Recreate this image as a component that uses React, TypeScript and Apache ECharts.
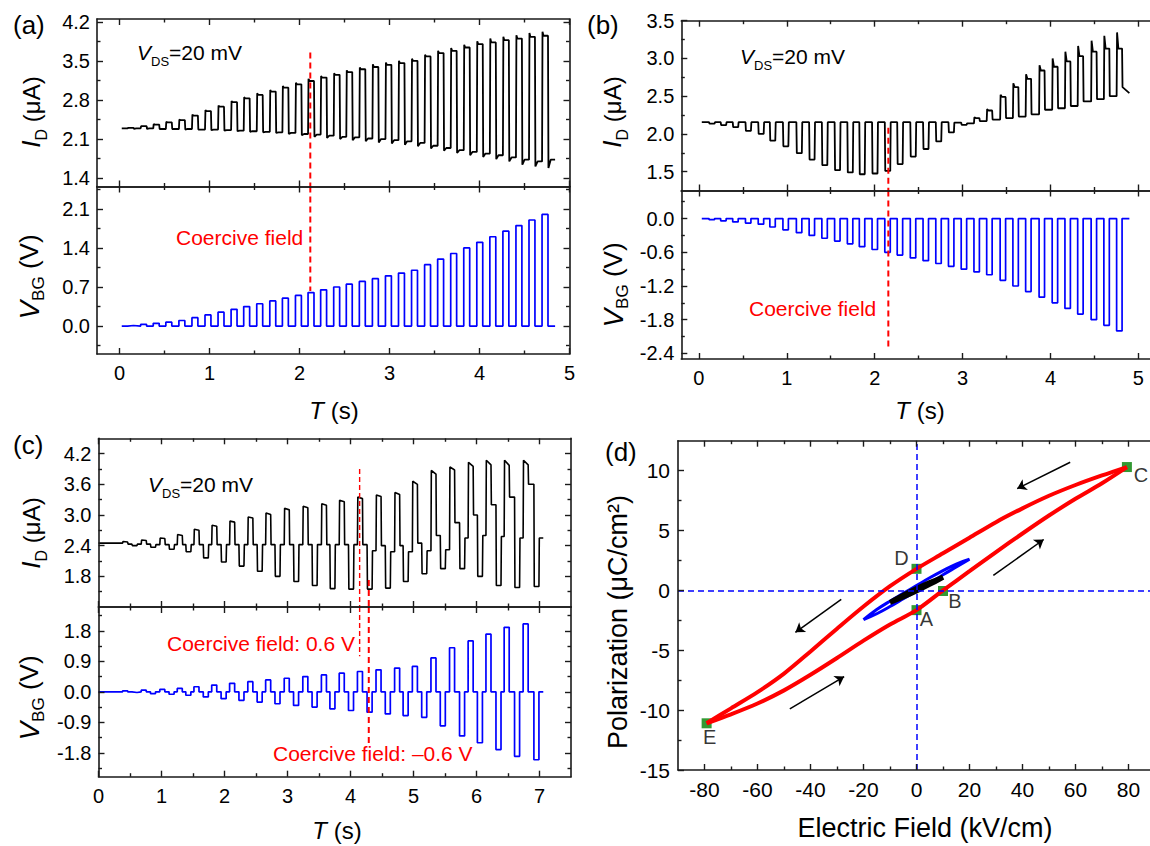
import React, { useEffect, useRef } from 'react';
import * as echarts from 'echarts';

const FONT = '"Liberation Sans", Arial, Helvetica, sans-serif';

// ================= Panel (a) data =================
const aTraceStart = 0.025;
const aTraceEnd = 4.84;
const aPulseWidth = 0.066;
const aPulseStart = [0.09, 0.235, 0.375, 0.515, 0.66, 0.805, 0.95, 1.095, 1.24, 1.38, 1.525, 1.67, 1.81, 1.955, 2.095, 2.235, 2.38, 2.52, 2.665, 2.81, 2.955, 3.10, 3.245, 3.39, 3.535, 3.68, 3.825, 3.97, 4.115, 4.26, 4.405, 4.55, 4.695];
const aVbg = [0.01, 0.03, 0.05, 0.07, 0.1, 0.15, 0.2, 0.25, 0.3, 0.35, 0.4, 0.45, 0.5, 0.55, 0.6, 0.65, 0.7, 0.75, 0.8, 0.85, 0.9, 0.95, 1.0, 1.1, 1.2, 1.3, 1.4, 1.5, 1.6, 1.7, 1.8, 1.9, 2.0];
const aIdStart = 2.29;
const aIdPeak = [2.30, 2.33, 2.37, 2.41, 2.45, 2.54, 2.62, 2.70, 2.78, 2.85, 2.92, 2.98, 3.05, 3.11, 3.18, 3.23, 3.28, 3.33, 3.38, 3.44, 3.47, 3.50, 3.54, 3.61, 3.68, 3.73, 3.79, 3.85, 3.90, 3.93, 3.96, 4.00, 4.02];
const aIdHigh = [2.30, 2.33, 2.36, 2.40, 2.44, 2.52, 2.60, 2.68, 2.76, 2.83, 2.89, 2.95, 3.02, 3.08, 3.14, 3.20, 3.25, 3.30, 3.35, 3.39, 3.43, 3.46, 3.50, 3.58, 3.64, 3.68, 3.74, 3.80, 3.83, 3.87, 3.90, 3.93, 3.95];
const aIdDip = [2.28, 2.28, 2.28, 2.28, 2.27, 2.27, 2.26, 2.25, 2.24, 2.23, 2.22, 2.21, 2.19, 2.17, 2.14, 2.12, 2.10, 2.08, 2.06, 2.04, 2.02, 2.00, 1.97, 1.93, 1.89, 1.85, 1.81, 1.78, 1.74, 1.70, 1.64, 1.61, 1.58];
const aIdLow = [2.29, 2.29, 2.28, 2.28, 2.28, 2.27, 2.27, 2.26, 2.25, 2.24, 2.23, 2.22, 2.21, 2.19, 2.18, 2.16, 2.14, 2.13, 2.11, 2.10, 2.08, 2.06, 2.03, 1.98, 1.94, 1.90, 1.87, 1.84, 1.81, 1.77, 1.73, 1.70, 1.73];
const aCoerciveT = 2.12;
const aCoerciveIdTop = 3.65;
const aCoerciveVbgBottom = 0.63;

// ================= Panel (b) data =================
const bTraceStart = 0.033;
const bTraceEnd = 4.897;
const bPulseWidth = 0.062;
const bPulseStart = [0.116, 0.248, 0.385, 0.53, 0.675, 0.807, 0.956, 1.109, 1.254, 1.399, 1.544, 1.689, 1.825, 1.97, 2.115, 2.256, 2.405, 2.55, 2.695, 2.839, 2.984, 3.129, 3.274, 3.427, 3.572, 3.717, 3.87, 4.019, 4.164, 4.309, 4.462, 4.607, 4.752];
const bVbg = [-0.02, -0.04, -0.06, -0.08, -0.1, -0.15, -0.2, -0.25, -0.3, -0.35, -0.4, -0.45, -0.5, -0.55, -0.6, -0.65, -0.7, -0.75, -0.8, -0.85, -0.9, -0.95, -1.0, -1.1, -1.2, -1.3, -1.4, -1.5, -1.6, -1.7, -1.8, -1.9, -2.0];
const bIdStart = 2.155;
const bIdPeak = [2.135, 2.115, 2.09, 2.04, 2.0, 1.91, 1.835, 1.745, 1.66, 1.585, 1.52, 1.49, 1.465, 1.475, 1.51, 1.60, 1.70, 1.80, 1.90, 2.02, 2.12, 2.22, 2.33, 2.52, 2.67, 2.79, 2.91, 3.00, 3.09, 3.165, 3.235, 3.30, 3.345];
const bIdPlateau = [2.135, 2.115, 2.09, 2.04, 2.0, 1.91, 1.835, 1.745, 1.66, 1.585, 1.52, 1.49, 1.465, 1.475, 1.51, 1.60, 1.70, 1.80, 1.90, 2.02, 2.12, 2.21, 2.31, 2.49, 2.62, 2.73, 2.84, 2.89, 2.96, 3.03, 3.09, 3.13, 3.13];
const bIdAfter = [2.155, 2.155, 2.155, 2.155, 2.155, 2.155, 2.155, 2.155, 2.155, 2.155, 2.155, 2.155, 2.155, 2.155, 2.155, 2.155, 2.155, 2.155, 2.155, 2.15, 2.14, 2.17, 2.19, 2.21, 2.23, 2.26, 2.32, 2.34, 2.37, 2.43, 2.46, 2.50, 2.62];
const bIdEnd = 2.54;
const bCoerciveT = 2.155;
const bCoerciveIdTop = 2.08;
const bCoerciveVbgBottom = -2.33;

// ================= Panel (c) data =================
const cTraceEnd = 7.06;
const cPulseWidth = 0.08;
const cPosStart = [0.383, 0.678, 0.973, 1.25, 1.515, 1.797, 2.081, 2.37, 2.653, 2.948, 3.243, 3.538, 3.821, 4.11, 4.405, 4.70, 4.982, 5.277, 5.572, 5.867, 6.15, 6.439, 6.74];
const cNegStart = [0.531, 0.825, 1.12, 1.386, 1.663, 1.946, 2.229, 2.518, 2.801, 3.096, 3.39, 3.673, 3.968, 4.263, 4.552, 4.835, 5.13, 5.425, 5.731, 6.014, 6.309, 6.604, 6.911];
const cVbgPos = [0.03, 0.05, 0.07, 0.1, 0.15, 0.2, 0.25, 0.3, 0.35, 0.4, 0.45, 0.5, 0.55, 0.6, 0.65, 0.7, 0.75, 1.0, 1.3, 1.5, 1.7, 1.9, 2.0];
const cVbgNeg = [-0.02, -0.05, -0.07, -0.1, -0.15, -0.2, -0.25, -0.3, -0.35, -0.4, -0.45, -0.5, -0.55, -0.6, -0.65, -0.7, -0.75, -1.0, -1.3, -1.5, -1.7, -1.9, -2.0];
const cIdStart = 2.45;
const cIdPosPeak = [2.48, 2.51, 2.55, 2.62, 2.72, 2.80, 2.88, 2.96, 3.04, 3.13, 3.17, 3.22, 3.29, 3.35, 3.39, 3.44, 3.66, 3.87, 3.94, 4.03, 4.07, 4.07, 4.07];
const cIdPosEnd = [2.47, 2.50, 2.54, 2.60, 2.70, 2.78, 2.86, 2.94, 3.01, 3.10, 3.14, 3.19, 3.26, 3.32, 3.36, 3.40, 3.60, 3.80, 3.88, 3.95, 3.98, 3.97, 3.98];
const cIdMid = [2.43, 2.43, 2.42, 2.42, 2.42, 2.42, 2.42, 2.42, 2.42, 2.42, 2.42, 2.42, 2.42, 2.42, 2.40, 2.40, 2.45, 2.60, 2.85, 3.0, 3.2, 3.35, 3.6];
const cIdNeg = [2.40, 2.37, 2.33, 2.28, 2.16, 2.08, 2.0, 1.90, 1.80, 1.70, 1.62, 1.56, 1.55, 1.55, 1.57, 1.70, 1.85, 1.95, 1.95, 1.80, 1.62, 1.58, 1.60];
const cIdAfter = [2.43, 2.42, 2.42, 2.42, 2.42, 2.42, 2.42, 2.42, 2.42, 2.42, 2.42, 2.42, 2.42, 2.30, 2.28, 2.28, 2.30, 2.32, 2.55, 2.60, 2.58, 2.55, 2.55];
const cCoerciveT1 = 4.145;
const cCoercive1IdTop = 3.9;
const cCoercive1VbgBottom = 1.05;
const cCoerciveT2 = 4.29;
const cCoercive2IdTop = 1.73;
const cCoercive2VbgBottom = -1.6;

// ================= Panel (d) data =================
const dUpperE = [79.4, 70, 60, 50, 40, 30, 20, 10, 0, -10, -20, -30, -40, -50, -60, -70, -79.2];
const dUpperP = [10.3, 9.6, 8.8, 7.9, 6.85, 5.7, 4.4, 3.1, 1.8, 0.35, -1.35, -3.2, -5.1, -6.95, -8.5, -9.85, -11.1];
const dLowerE = [-79.2, -70, -60, -50, -40, -30, -20, -10, 0, 10, 20, 30, 40, 50, 60, 70, 79.4];
const dLowerP = [-11.1, -10.35, -9.45, -8.35, -7.05, -5.65, -4.2, -2.85, -1.65, 0, 1.6, 3.2, 4.75, 6.25, 7.65, 8.95, 10.3];
const dBlueE = [-20, -15, -10, -5, 0, 5, 10, 15, 20, 15, 10, 5, 0, -5, -10, -15, -20];
const dBlueP = [-2.45, -1.6, -0.9, -0.25, 0.4, 1.05, 1.65, 2.2, 2.6, 1.95, 1.3, 0.6, -0.05, -0.7, -1.35, -1.95, -2.45];
const dBlackE = [-10, -5, 0, 5, 10, 5, 0, -5, -10];
const dBlackP = [-1.0, -0.4, 0.15, 0.65, 1.1, 0.5, -0.05, -0.55, -1.0];
const dPointNames = ['A', 'B', 'C', 'D', 'E'];
const dPointE = [0, 10, 79.4, 0, -79.2];
const dPointP = [-1.65, -0.05, 10.3, 1.8, -11.1];
const dArrowFrom = [[58, 10.7], [29, 1.25], [-28.4, -0.75], [-47.8, -9.9]];
const dArrowTo = [[38, 8.5], [48, 4.25], [-45.7, -3.5], [-27.3, -7.2]];

// ================= Ticks =================
const aXTicks = [0, 1, 2, 3, 4, 5];
const aXMinor = [0.5, 1.5, 2.5, 3.5, 4.5];
const aIdTicks = [1.4, 2.1, 2.8, 3.5, 4.2];
const aIdMinor = [1.75, 2.45, 3.15, 3.85];
const aVbgTicks = [0, 0.7, 1.4, 2.1];
const aVbgMinor = [-0.35, 0.35, 1.05, 1.75, 2.45];
const bXTicks = [0, 1, 2, 3, 4, 5];
const bXMinor = [0.5, 1.5, 2.5, 3.5, 4.5];
const bIdTicks = [1.5, 2.0, 2.5, 3.0, 3.5];
const bIdMinor = [1.75, 2.25, 2.75, 3.25];
const bVbgTicks = [-2.4, -1.8, -1.2, -0.6, 0];
const bVbgMinor = [-2.1, -1.5, -0.9, -0.3, 0.3];
const cXTicks = [0, 1, 2, 3, 4, 5, 6, 7];
const cXMinor = [0.5, 1.5, 2.5, 3.5, 4.5, 5.5, 6.5];
const cIdTicks = [1.8, 2.4, 3.0, 3.6, 4.2];
const cIdMinor = [1.5, 2.1, 2.7, 3.3, 3.9];
const cVbgTicks = [-1.8, -0.9, 0, 0.9, 1.8];
const cVbgMinor = [-2.25, -1.35, -0.45, 0.45, 1.35, 2.25];
const dXTicks = [-80, -60, -40, -20, 0, 20, 40, 60, 80];
const dXMinor = [-70, -50, -30, -10, 10, 30, 50, 70];
const dYTicks = [-15, -10, -5, 0, 5, 10];
const dYMinor = [-12.5, -7.5, -2.5, 2.5, 7.5];

// ================= builders =================
function pulseTrain(t0: number, t1: number, starts: number[], width: number, amps: number[]) {
  const pts: number[][] = [[t0, 0]];
  starts.forEach((s, i) => {
    pts.push([s, 0], [s, amps[i]], [s + width, amps[i]], [s + width, 0]);
  });
  pts.push([t1, 0]);
  return pts;
}

function traceAId() {
  const pts: number[][] = [[aTraceStart, aIdStart]];
  let prev = aIdStart;
  aPulseStart.forEach((s, i) => {
    const e = s + aPulseWidth;
    pts.push([s, prev], [s + 0.005, aIdPeak[i]], [s + 0.016, aIdHigh[i]], [e, aIdHigh[i]], [e + 0.005, aIdDip[i]], [e + 0.03, aIdLow[i]]);
    prev = aIdLow[i];
  });
  pts.push([aTraceEnd, prev]);
  return pts;
}

function traceBId() {
  const pts: number[][] = [[bTraceStart, bIdStart]];
  let prev = bIdStart;
  bPulseStart.forEach((s, i) => {
    const e = s + bPulseWidth;
    pts.push([s, prev], [s + 0.005, bIdPeak[i]], [s + 0.02, bIdPlateau[i]], [e, bIdPlateau[i]], [e + 0.005, bIdAfter[i]]);
    prev = bIdAfter[i];
  });
  pts.push([bTraceEnd, bIdEnd]);
  return pts;
}

function traceCVbg() {
  const pts: number[][] = [[0, 0]];
  cPosStart.forEach((s, i) => {
    const n = cNegStart[i];
    pts.push([s, 0], [s, cVbgPos[i]], [s + cPulseWidth, cVbgPos[i]], [s + cPulseWidth, 0],
      [n, 0], [n, cVbgNeg[i]], [n + cPulseWidth, cVbgNeg[i]], [n + cPulseWidth, 0]);
  });
  pts.push([cTraceEnd, 0]);
  return pts;
}

function traceCId() {
  const pts: number[][] = [[0, cIdStart]];
  let prev = cIdStart;
  cPosStart.forEach((s, i) => {
    const e = s + cPulseWidth;
    const n = cNegStart[i];
    const ne = n + cPulseWidth;
    pts.push([s, prev], [s + 0.006, cIdPosPeak[i]], [e, cIdPosEnd[i]], [e + 0.006, cIdMid[i]], [n, cIdMid[i]],
      [n + 0.006, cIdNeg[i]], [ne, cIdNeg[i]], [ne + 0.006, cIdAfter[i]]);
    prev = cIdAfter[i];
  });
  pts.push([cTraceEnd, prev]);
  return pts;
}

const zip = (a: number[], b: number[]) => a.map((v, i) => [v, b[i]]);

interface AxisDef {
  min: number; max: number; majors: number[]; minors: number[];
  labels: boolean; fmt?: (v: number) => string; fontSize?: number; margin?: number; noOpp?: boolean;
}

function addAxes(list: any[], dim: 'x' | 'y', grid: number, d: AxisDef): number {
  const mainPos = dim === 'x' ? 'bottom' : 'left';
  const oppPos = dim === 'x' ? 'top' : 'right';
  const mk = (pos: string, ticks: number[], len: number, lineShow: boolean, labels: boolean) => ({
    type: 'value', gridIndex: grid, min: d.min, max: d.max, position: pos,
    axisLine: { show: lineShow, onZero: false, lineStyle: { color: '#1a1a1a', width: 1.6 } },
    axisTick: { show: true, inside: true, length: len, customValues: ticks, lineStyle: { color: '#1a1a1a', width: 1.4 } },
    axisLabel: labels ? {
      show: true, customValues: d.majors, formatter: d.fmt || ((v: number) => String(v)),
      fontSize: d.fontSize || 20, fontFamily: FONT, color: '#000', margin: d.margin ?? 8,
    } : { show: false },
    splitLine: { show: false }, minorTick: { show: false }, minorSplitLine: { show: false },
    axisPointer: { show: false }, silent: true, z: 5,
  });
  const idx = list.length;
  list.push(mk(mainPos, d.majors, 6, true, d.labels));
  list.push(mk(mainPos, d.minors, 3.5, false, false));
  if (!d.noOpp) {
    list.push(mk(oppPos, d.majors, 6, true, false));
    list.push(mk(oppPos, d.minors, 3.5, false, false));
  }
  return idx;
}

const f1 = (v: number) => v.toFixed(1);

function buildOption() {
  const grids = [
    { left: 97, top: 19, width: 472.5, height: 167.5 },
    { left: 97, top: 186.5, width: 472.5, height: 167.5 },
    { left: 681.3, top: 20.7, width: 483.5, height: 169.8 },
    { left: 681.3, top: 190.5, width: 483.5, height: 168.5 },
    { left: 98.5, top: 438.3, width: 472.5, height: 168.7 },
    { left: 98.5, top: 607, width: 472.5, height: 169.7 },
    { left: 678, top: 440.7, width: 477, height: 329.3 },
  ].map((g) => ({ ...g, containLabel: false, outerBoundsMode: 'none' }));

  const xAxes: any[] = [];
  const yAxes: any[] = [];
  const ax = [
    addAxes(xAxes, 'x', 0, { min: -0.25, max: 5, majors: aXTicks, minors: aXMinor, labels: false }),
    addAxes(xAxes, 'x', 1, { min: -0.25, max: 5, majors: aXTicks, minors: aXMinor, labels: true, margin: 9 }),
    addAxes(xAxes, 'x', 2, { min: -0.2, max: 5.3, majors: bXTicks, minors: bXMinor, labels: false }),
    addAxes(xAxes, 'x', 3, { min: -0.2, max: 5.3, majors: bXTicks, minors: bXMinor, labels: true, margin: 9 }),
    addAxes(xAxes, 'x', 4, { min: 0, max: 7.5, majors: cXTicks, minors: cXMinor, labels: false }),
    addAxes(xAxes, 'x', 5, { min: 0, max: 7.5, majors: cXTicks, minors: cXMinor, labels: true, margin: 9 }),
    addAxes(xAxes, 'x', 6, { min: -90, max: 90, majors: dXTicks, minors: dXMinor, labels: true, fontSize: 21, margin: 9 }),
  ];
  const ay = [
    addAxes(yAxes, 'y', 0, { min: 1.25, max: 4.25, majors: aIdTicks, minors: aIdMinor, labels: true, fmt: f1, margin: 7 }),
    addAxes(yAxes, 'y', 1, { min: -0.5, max: 2.5, majors: aVbgTicks, minors: aVbgMinor, labels: true, fmt: f1, margin: 7 }),
    addAxes(yAxes, 'y', 2, { min: 1.25, max: 3.5, majors: bIdTicks, minors: bIdMinor, labels: true, fmt: f1, margin: 7, noOpp: true }),
    addAxes(yAxes, 'y', 3, { min: -2.5, max: 0.5, majors: bVbgTicks, minors: bVbgMinor, labels: true, fmt: f1, margin: 7, noOpp: true }),
    addAxes(yAxes, 'y', 4, { min: 1.2, max: 4.5, majors: cIdTicks, minors: cIdMinor, labels: true, fmt: f1, margin: 7 }),
    addAxes(yAxes, 'y', 5, { min: -2.5, max: 2.5, majors: cVbgTicks, minors: cVbgMinor, labels: true, fmt: f1, margin: 7 }),
    addAxes(yAxes, 'y', 6, { min: -15, max: 12.5, majors: dYTicks, minors: dYMinor, labels: true, fontSize: 21, margin: 8, noOpp: true }),
  ];

  const line = (g: number, data: number[][], color: string, width: number, extra: any = {}) => ({
    type: 'line', xAxisIndex: ax[g], yAxisIndex: ay[g], data, showSymbol: false, symbol: 'none',
    lineStyle: { color, width, ...(extra.lineStyle || {}) }, silent: true, animation: false,
    ...Object.fromEntries(Object.entries(extra).filter(([k]) => k !== 'lineStyle')),
  });
  const dashRed = { lineStyle: { type: [6, 4] } };

  const series: any[] = [
    line(0, traceAId(), '#000', 1.8),
    line(1, pulseTrain(aTraceStart, aTraceEnd, aPulseStart, aPulseWidth, aVbg), '#0000ff', 1.7),
    line(0, [[aCoerciveT, aCoerciveIdTop], [aCoerciveT, 1.25]], '#ff0000', 2, dashRed),
    line(1, [[aCoerciveT, 2.5], [aCoerciveT, aCoerciveVbgBottom]], '#ff0000', 2, dashRed),

    line(2, traceBId(), '#000', 1.8),
    line(3, pulseTrain(bTraceStart, bTraceEnd, bPulseStart, bPulseWidth, bVbg), '#0000ff', 1.7),
    line(2, [[bCoerciveT, bCoerciveIdTop], [bCoerciveT, 1.25]], '#ff0000', 2, dashRed),
    line(3, [[bCoerciveT, 0.5], [bCoerciveT, bCoerciveVbgBottom]], '#ff0000', 2, dashRed),

    line(4, traceCId(), '#000', 1.6),
    line(5, traceCVbg(), '#0000ff', 1.7),
    line(4, [[cCoerciveT1, cCoercive1IdTop], [cCoerciveT1, 1.2]], '#ff0000', 1.4, { lineStyle: { type: [5, 3] } }),
    line(5, [[cCoerciveT1, 2.5], [cCoerciveT1, cCoercive1VbgBottom]], '#ff0000', 1.4, { lineStyle: { type: [5, 3] } }),
    line(4, [[cCoerciveT2, cCoercive2IdTop], [cCoerciveT2, 1.2]], '#ff0000', 2, dashRed),
    line(5, [[cCoerciveT2, 2.5], [cCoerciveT2, cCoercive2VbgBottom]], '#ff0000', 2, dashRed),

    {
      type: 'line', xAxisIndex: ax[6], yAxisIndex: ay[6], data: [], silent: true,
      markLine: {
        silent: true, symbol: ['none', 'none'], label: { show: false }, animation: false,
        lineStyle: { type: [6, 4], color: '#0000ff', width: 1.5 },
        data: [{ xAxis: 0 }, { yAxis: 0 }],
      },
    },
    line(6, zip(dUpperE, dUpperP), '#ff0000', 4, { smooth: 0.3 }),
    line(6, zip(dLowerE, dLowerP), '#ff0000', 4, { smooth: 0.3 }),
    line(6, zip(dBlueE, dBlueP), '#0000ff', 3, { smooth: 0.4 }),
    line(6, zip(dBlackE, dBlackP), '#000', 5, { smooth: 0.4 }),
    {
      type: 'lines', coordinateSystem: 'cartesian2d', xAxisIndex: ax[6], yAxisIndex: ay[6],
      symbol: ['none', 'arrow'], symbolSize: 9, silent: true,
      lineStyle: { color: '#000', width: 1.5, opacity: 1, curveness: 0 },
      data: dArrowFrom.map((f, i) => ({ coords: [f, dArrowTo[i]] })),
    },
    {
      type: 'scatter', xAxisIndex: ax[6], yAxisIndex: ay[6], symbol: 'rect', symbolSize: 10, silent: true,
      itemStyle: { color: '#008000' },
      data: dPointNames.map((n, i) => ({
        name: n, value: [dPointE[i], dPointP[i]],
        label: {
          show: true, formatter: '{b}', position: 'inside', fontSize: 20, fontFamily: FONT, color: '#000',
          offset: [[10, 9], [12, 10], [14, 8], [-15, -11], [3, 14]][i],
        },
      })),
    },
  ];

  const txt = (x: number, y: number, text: string, size: number, color = '#000', align = 'left', extra: any = {}) => ({
    type: 'text', x, y, silent: true,
    style: { text, fontSize: size, fontFamily: FONT, fill: color, align, verticalAlign: 'middle', textAlign: align, textVerticalAlign: 'middle', ...extra },
  });
  const richVds = (x: number, y: number) => txt(x, y, '{i|V}{s|DS}{n|=20 mV}', 21, '#000', 'left', {
    rich: {
      i: { fontStyle: 'italic', fontSize: 21, fontFamily: FONT, lineHeight: 32 },
      s: { fontSize: 13, fontFamily: FONT, lineHeight: 12, verticalAlign: 'bottom' },
      n: { fontSize: 21, fontFamily: FONT, lineHeight: 32 },
    },
  });
  const rotTitle = (x: number, y: number, main: string, sub: string, rest: string, mainSize: number, restSize: number) => ({
    type: 'group', x, y, rotation: Math.PI / 2, silent: true,
    children: [txt(0, 0, `{i|${main}}{s|${sub}}{n|${rest}}`, restSize, '#000', 'center', {
      rich: {
        i: { fontStyle: 'italic', fontSize: mainSize, fontFamily: FONT, lineHeight: 36 },
        s: { fontSize: Math.round(mainSize * 0.6), fontFamily: FONT, lineHeight: 14, verticalAlign: 'bottom' },
        n: { fontSize: restSize, fontFamily: FONT, lineHeight: 36 },
      },
    })],
  });
  const tTitle = (x: number, y: number) => txt(x, y, '{i|T}{n| (s)}', 24, '#000', 'center', {
    rich: {
      i: { fontStyle: 'italic', fontSize: 24, fontFamily: FONT },
      n: { fontSize: 24, fontFamily: FONT },
    },
  });

  const graphic: any[] = [
    txt(13, 25, '(a)', 26), txt(587, 25, '(b)', 26), txt(13, 445, '(c)', 26), txt(605, 452, '(d)', 26),
    richVds(137, 52), richVds(740, 56), richVds(148, 484),
    rotTitle(31, 112, 'I', 'D', ' (μA)', 26, 24),
    rotTitle(29, 277, 'V', 'BG', ' (V)', 28, 26),
    rotTitle(612, 112, 'I', 'D', ' (μA)', 26, 24),
    rotTitle(613, 285, 'V', 'BG', ' (V)', 28, 26),
    rotTitle(31, 533, 'I', 'D', ' (μA)', 26, 24),
    rotTitle(29, 698, 'V', 'BG', ' (V)', 28, 26),
    tTitle(334, 410), tTitle(920, 410), tTitle(337, 830),
    txt(176, 237, 'Coercive field', 21, '#ff0000'),
    txt(749, 308, 'Coercive field', 21, '#ff0000'),
    txt(167, 643, 'Coercive field: 0.6 V', 21, '#ff0000'),
    txt(273, 753, 'Coercive field: –0.6 V', 21, '#ff0000'),
    { type: 'group', x: 618, y: 622, rotation: Math.PI / 2, silent: true, children: [txt(0, 0, 'Polarization (μC/cm²)', 27, '#000', 'center')] },
    txt(925, 828, 'Electric Field (kV/cm)', 27, '#000', 'center'),
  ];

  return {
    animation: false,
    backgroundColor: '#ffffff',
    textStyle: { fontFamily: FONT },
    grid: grids,
    xAxis: xAxes,
    yAxis: yAxes,
    series,
    graphic,
  };
}

export default function App() {
  const ref = useRef<HTMLDivElement>(null);
  useEffect(() => {
    if (!ref.current) return;
    const chart = echarts.init(ref.current, null, { renderer: 'svg' });
    chart.setOption(buildOption() as any);
    return () => chart.dispose();
  }, []);
  return <div ref={ref} style={{ position: 'fixed', left: 0, top: 0, width: 1150, height: 846, background: '#fff' }} />;
}
